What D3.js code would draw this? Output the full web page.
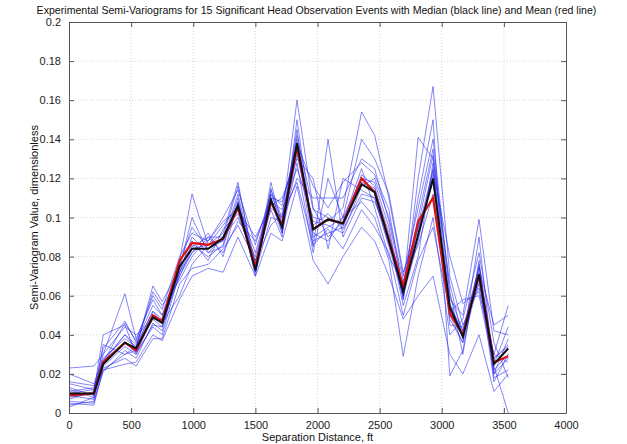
<!DOCTYPE html>
<html>
<head>
<meta charset="utf-8">
<script src="https://cdn.jsdelivr.net/npm/d3@7"></script>
<style>
  body { margin: 0; background: #fff; }
  svg { font-family: "Liberation Sans", Arial, sans-serif; }
</style>
</head>
<body>
<div id="chart"></div>
<script>
// lag distances (ft)
var lags = [0, 200, 275, 450, 540, 675, 750, 890, 990, 1120, 1240, 1360, 1500, 1625, 1715,
            1835, 1965, 2085, 2205, 2355, 2460, 2575, 2690, 2810, 2930, 3065, 3170, 3300, 3420, 3535];

// median and mean
var median = [.010,.010,.025,.036,.033,.049,.046,.075,.084,.084,.0895,.106,.073,.109,.095,
              .138,.094,.099,.097,.117,.113,.088,.062,.091,.120,.054,.039,.071,.025,.033];
var mean   = [.009,.010,.026,.036,.032,.050,.047,.078,.087,.086,.089,.105,.075,.108,.096,
              .136,.094,.099,.097,.120,.113,.089,.065,.098,.110,.051,.040,.071,.026,.029];

// the 15 event semi-variograms
var events = [
  [.012,.008,.030,.061,.038,.058,.050,.072,.090,.082,.085,.108,.075,.112,.098,.140,.090,.095,.100,.120,.118,.095,.058,.100,.135,.060,.042,.075,.022,.030],
  [.006,.005,.024,.034,.030,.045,.044,.078,.112,.086,.092,.118,.072,.110,.094,.132,.096,.102,.094,.112,.110,.085,.060,.088,.125,.050,.036,.068,.028,.035],
  [.015,.012,.026,.040,.035,.052,.048,.070,.082,.088,.098,.104,.078,.105,.100,.160,.105,.090,.098,.125,.105,.080,.066,.095,.118,.056,.040,.072,.020,.038],
  [.008,.010,.022,.030,.032,.048,.044,.074,.086,.080,.086,.110,.070,.115,.092,.136,.085,.140,.090,.110,.108,.090,.055,.080,.128,.045,.044,.066,.030,.026],
  [.020,.015,.028,.038,.034,.062,.055,.068,.080,.090,.090,.100,.080,.108,.104,.125,.100,.098,.105,.154,.142,.110,.070,.105,.140,.062,.030,.078,.018,.022],
  [.004,.006,.021,.032,.028,.046,.042,.076,.095,.084,.088,.112,.074,.118,.096,.145,.088,.092,.095,.118,.115,.092,.058,.120,.167,.070,.045,.064,.025,.044],
  [.010,.012,.033,.047,.036,.055,.050,.078,.088,.078,.094,.102,.076,.104,.090,.150,.092,.088,.100,.108,.100,.078,.029,.070,.100,.040,.048,.082,.036,.018],
  [.013,.009,.025,.036,.031,.044,.040,.072,.082,.092,.080,.108,.072,.100,.098,.120,.110,.110,.110,.130,.125,.098,.064,.110,.150,.019,.032,.076,.028,.034],
  [.007,.011,.040,.045,.030,.050,.046,.060,.076,.086,.096,.106,.082,.110,.108,.134,.098,.096,.092,.116,.120,.100,.068,.086,.112,.058,.050,.099,.042,.040],
  [.016,.014,.023,.028,.024,.038,.038,.066,.074,.076,.084,.096,.078,.096,.102,.118,.086,.094,.084,.104,.095,.082,.050,.078,.095,.052,.058,.060,.024,.000],
  [.009,.007,.026,.046,.037,.060,.053,.080,.092,.088,.100,.114,.086,.112,.106,.138,.116,.105,.118,.128,.122,.104,.062,.141,.130,.066,.038,.070,.016,.030],
  [.023,.024,.030,.044,.040,.048,.048,.072,.085,.090,.082,.098,.088,.108,.092,.128,.082,.120,.100,.140,.130,.112,.072,.094,.124,.080,.056,.062,.030,.055],
  [.005,.004,.022,.025,.026,.040,.037,.058,.070,.074,.072,.090,.070,.092,.088,.116,.078,.066,.080,.095,.088,.070,.048,.060,.070,.030,.020,.040,.011,.020],
  [.011,.013,.027,.040,.033,.065,.057,.074,.100,.082,.090,.116,.076,.114,.100,.142,.104,.100,.096,.122,.116,.088,.060,.096,.132,.055,.042,.074,.045,.050],
  [.003,.008,.035,.030,.034,.052,.046,.070,.084,.086,.088,.104,.090,.106,.110,.130,.120,.084,.120,.114,.110,.086,.066,.092,.122,.048,.036,.090,.020,.028]
];

var xTicks = [0, 500, 1000, 1500, 2000, 2500, 3000, 3500, 4000];
var yTicks = [0, 0.02, 0.04, 0.06, 0.08, 0.1, 0.12, 0.14, 0.16, 0.18, 0.2];

var titleText = "Experimental Semi-Variograms for 15 Significant Head Observation Events with Median (black line) and Mean (red line)";
var xLabel = "Separation Distance, ft";
var yLabel = "Semi-Variogram Value, dimensionless";

// dimensions and margins
var W = 627, H = 444;
var margin = {top: 22, right: 61, bottom: 31, left: 69},
    width = W - margin.left - margin.right,
    height = H - margin.top - margin.bottom;

var svg = d3.select("#chart").append("svg")
    .attr("width", W)
    .attr("height", H);

var g = svg.append("g")
    .attr("transform", "translate(" + margin.left + "," + margin.top + ")");

var x = d3.scaleLinear().domain([0, 4000]).range([0, width]);
var y = d3.scaleLinear().domain([0, 0.2]).range([height, 0]);

// grid
g.append("g").selectAll("line.vg")
    .data(xTicks.slice(1, -1))
  .enter().append("line")
    .attr("x1", function(d) { return x(d); })
    .attr("x2", function(d) { return x(d); })
    .attr("y1", 0).attr("y2", height)
    .attr("stroke", "#c8c8c8").attr("stroke-width", 0.8)
    .attr("stroke-dasharray", "1,2");
g.append("g").selectAll("line.hg")
    .data(yTicks.slice(1, -1))
  .enter().append("line")
    .attr("y1", function(d) { return y(d); })
    .attr("y2", function(d) { return y(d); })
    .attr("x1", 0).attr("x2", width)
    .attr("stroke", "#c8c8c8").attr("stroke-width", 0.8)
    .attr("stroke-dasharray", "1,2");

var line = d3.line()
    .x(function(d, i) { return x(lags[i]); })
    .y(function(d) { return y(d); });

// event lines
g.append("g").selectAll("path")
    .data(events)
  .enter().append("path")
    .attr("d", line)
    .attr("fill", "none")
    .attr("stroke", "#2020f0")
    .attr("stroke-opacity", 0.6)
    .attr("stroke-width", 0.9);

// mean (red) and median (black)
g.append("path")
    .datum(mean)
    .attr("d", line)
    .attr("fill", "none")
    .attr("stroke", "#e01010")
    .attr("stroke-width", 2.2);

g.append("path")
    .datum(median)
    .attr("d", line)
    .attr("fill", "none")
    .attr("stroke", "#111")
    .attr("stroke-width", 2);

// axes, matlab style box with inward ticks
var axisColor = "#555";
function styleAxis(sel) {
  sel.select(".domain").attr("stroke", axisColor);
  sel.selectAll(".tick line").attr("stroke", axisColor);
  sel.selectAll(".tick text").attr("fill", "#222").style("font-size", "11px")
     .style("font-family", "'Liberation Sans', Arial, sans-serif");
}

var fmtY = function(d) { return d === 0 ? "0" : d3.format("~g")(d); };
var fmtX = d3.format("d");

g.append("g")
    .attr("transform", "translate(0," + height + ")")
    .call(d3.axisBottom(x).tickValues(xTicks).tickSizeInner(-5).tickSizeOuter(0).tickPadding(8).tickFormat(fmtX))
    .call(styleAxis);
g.append("g")
    .call(d3.axisTop(x).tickValues(xTicks).tickSizeInner(-5).tickSizeOuter(0).tickFormat(""))
    .call(styleAxis);
g.append("g")
    .call(d3.axisLeft(y).tickValues(yTicks).tickSizeInner(-5).tickSizeOuter(0).tickPadding(8).tickFormat(fmtY))
    .call(styleAxis);
g.append("g")
    .attr("transform", "translate(" + width + ",0)")
    .call(d3.axisRight(y).tickValues(yTicks).tickSizeInner(-5).tickSizeOuter(0).tickFormat(""))
    .call(styleAxis);

// title and labels
svg.append("text")
    .attr("x", margin.left + width / 2 - 1)
    .attr("y", 14)
    .attr("text-anchor", "middle")
    .style("font-size", "10.6px")
    .attr("fill", "#111")
    .text(titleText);

svg.append("text")
    .attr("x", margin.left + width / 2)
    .attr("y", 441)
    .attr("text-anchor", "middle")
    .style("font-size", "11px")
    .attr("fill", "#111")
    .text(xLabel);

svg.append("text")
    .attr("transform", "translate(38," + (margin.top + height / 2) + ") rotate(-90)")
    .attr("text-anchor", "middle")
    .style("font-size", "11px")
    .attr("fill", "#111")
    .text(yLabel);
</script>
</body>
</html>
